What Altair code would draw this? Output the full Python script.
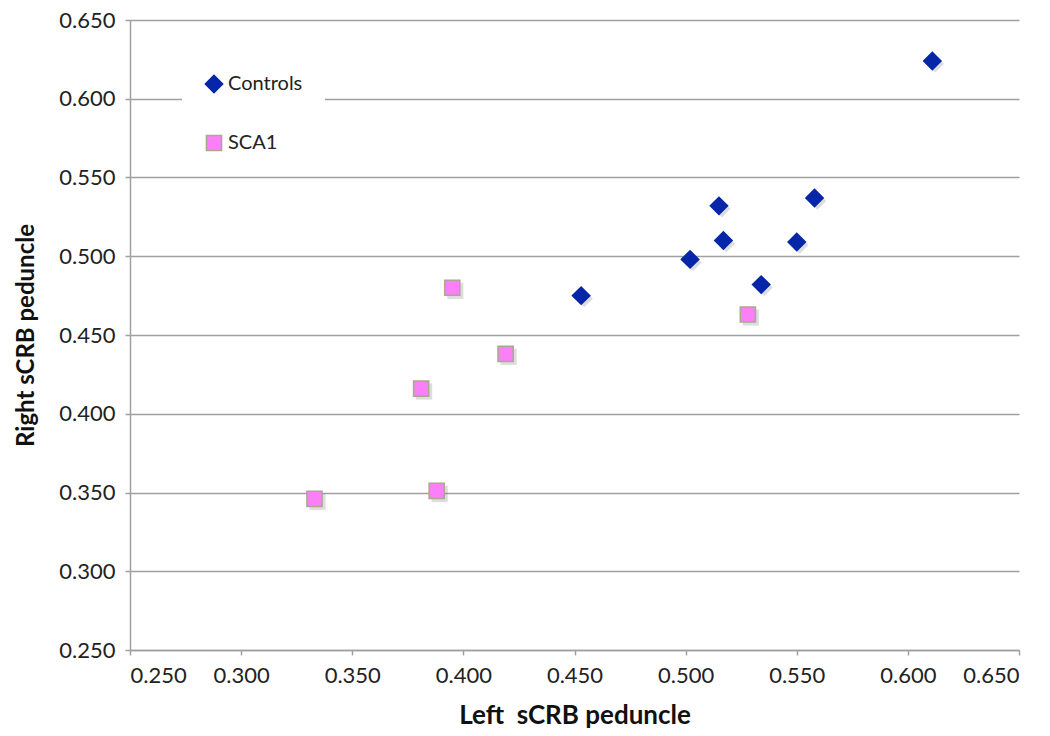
import altair as alt
import pandas as pd

# Data
ctrl_x = [0.611, 0.515, 0.558, 0.517, 0.550, 0.502, 0.534, 0.453]
ctrl_y = [0.624, 0.532, 0.537, 0.510, 0.509, 0.498, 0.482, 0.475]
sca_x = [0.395, 0.419, 0.381, 0.333, 0.388, 0.528]
sca_y = [0.480, 0.438, 0.416, 0.346, 0.351, 0.463]
groups = ["Controls", "SCA1"]
ticks = [0.25, 0.30, 0.35, 0.40, 0.45, 0.50, 0.55, 0.60, 0.65]

df = pd.DataFrame({
    "x": ctrl_x + sca_x,
    "y": ctrl_y + sca_y,
    "group": [groups[0]] * len(ctrl_x) + [groups[1]] * len(sca_x),
})

FONT = "Lato"

xenc = alt.X("x:Q", scale=alt.Scale(domain=[0.25, 0.65], nice=False, zero=False),
             axis=alt.Axis(values=ticks, format=".3f", title="Left\u00a0 sCRB peduncle",
                           grid=False, labelPadding=10, titlePadding=16))
yenc = alt.Y("y:Q", scale=alt.Scale(domain=[0.25, 0.65], nice=False, zero=False),
             axis=alt.Axis(values=ticks, format=".3f", title="Right sCRB peduncle",
                           grid=True, labelPadding=10, titlePadding=20, titleFontSize=24))

base = alt.Chart(df)

shadow_d = base.transform_filter(alt.datum.group == "Controls").mark_point(
    shape="diamond", filled=True, color="#777777", opacity=0.25, size=300,
    xOffset=3, yOffset=3).encode(x=xenc, y=yenc)
shadow_s = base.transform_filter(alt.datum.group == "SCA1").mark_point(
    shape="square", filled=True, color="#777777", opacity=0.25, size=260,
    xOffset=3, yOffset=3).encode(x=xenc, y=yenc)

legend = alt.Legend(orient="none", legendX=52, legendY=32, title=None,
                    fillColor="white", padding=22, rowPadding=36,
                    labelFont=FONT, labelFontSize=20, labelColor="#222222",
                    symbolSize=150, labelOffset=4, symbolStrokeWidth=1.5)

points = base.mark_point(filled=True, opacity=1, strokeWidth=1.5).encode(
    x=xenc, y=yenc,
    color=alt.Color("group:N", scale=alt.Scale(domain=groups, range=["#0526a8", "#fb7ff7"]), legend=legend),
    shape=alt.Shape("group:N", scale=alt.Scale(domain=groups, range=["diamond", "square"]), legend=legend),
    stroke=alt.Stroke("group:N", scale=alt.Scale(domain=groups, range=["#0526a8", "#aaa88e"]), legend=legend),
    size=alt.Size("group:N", scale=alt.Scale(domain=groups, range=[300, 230]), legend=None),
)

chart = alt.layer(shadow_d, shadow_s, points).properties(
    width=889, height=630,
    autosize=alt.AutoSizeParams(type="none"),
    padding={"left": 122, "top": 12, "right": 10, "bottom": 84},
).configure_view(stroke=None).configure_axis(
    labelFont=FONT, labelFontSize=22, labelColor="#222222",
    titleFont=FONT, titleFontSize=26, titleFontWeight="bold", titleColor="#111111",
    domainColor="#a0a0a0", domainWidth=1.5, tickColor="#a0a0a0", tickSize=5, tickWidth=1.5,
    gridColor="#a0a0a0", gridWidth=1.5,
)

chart.save("out.html", embed_options={"renderer": "svg", "actions": False})
